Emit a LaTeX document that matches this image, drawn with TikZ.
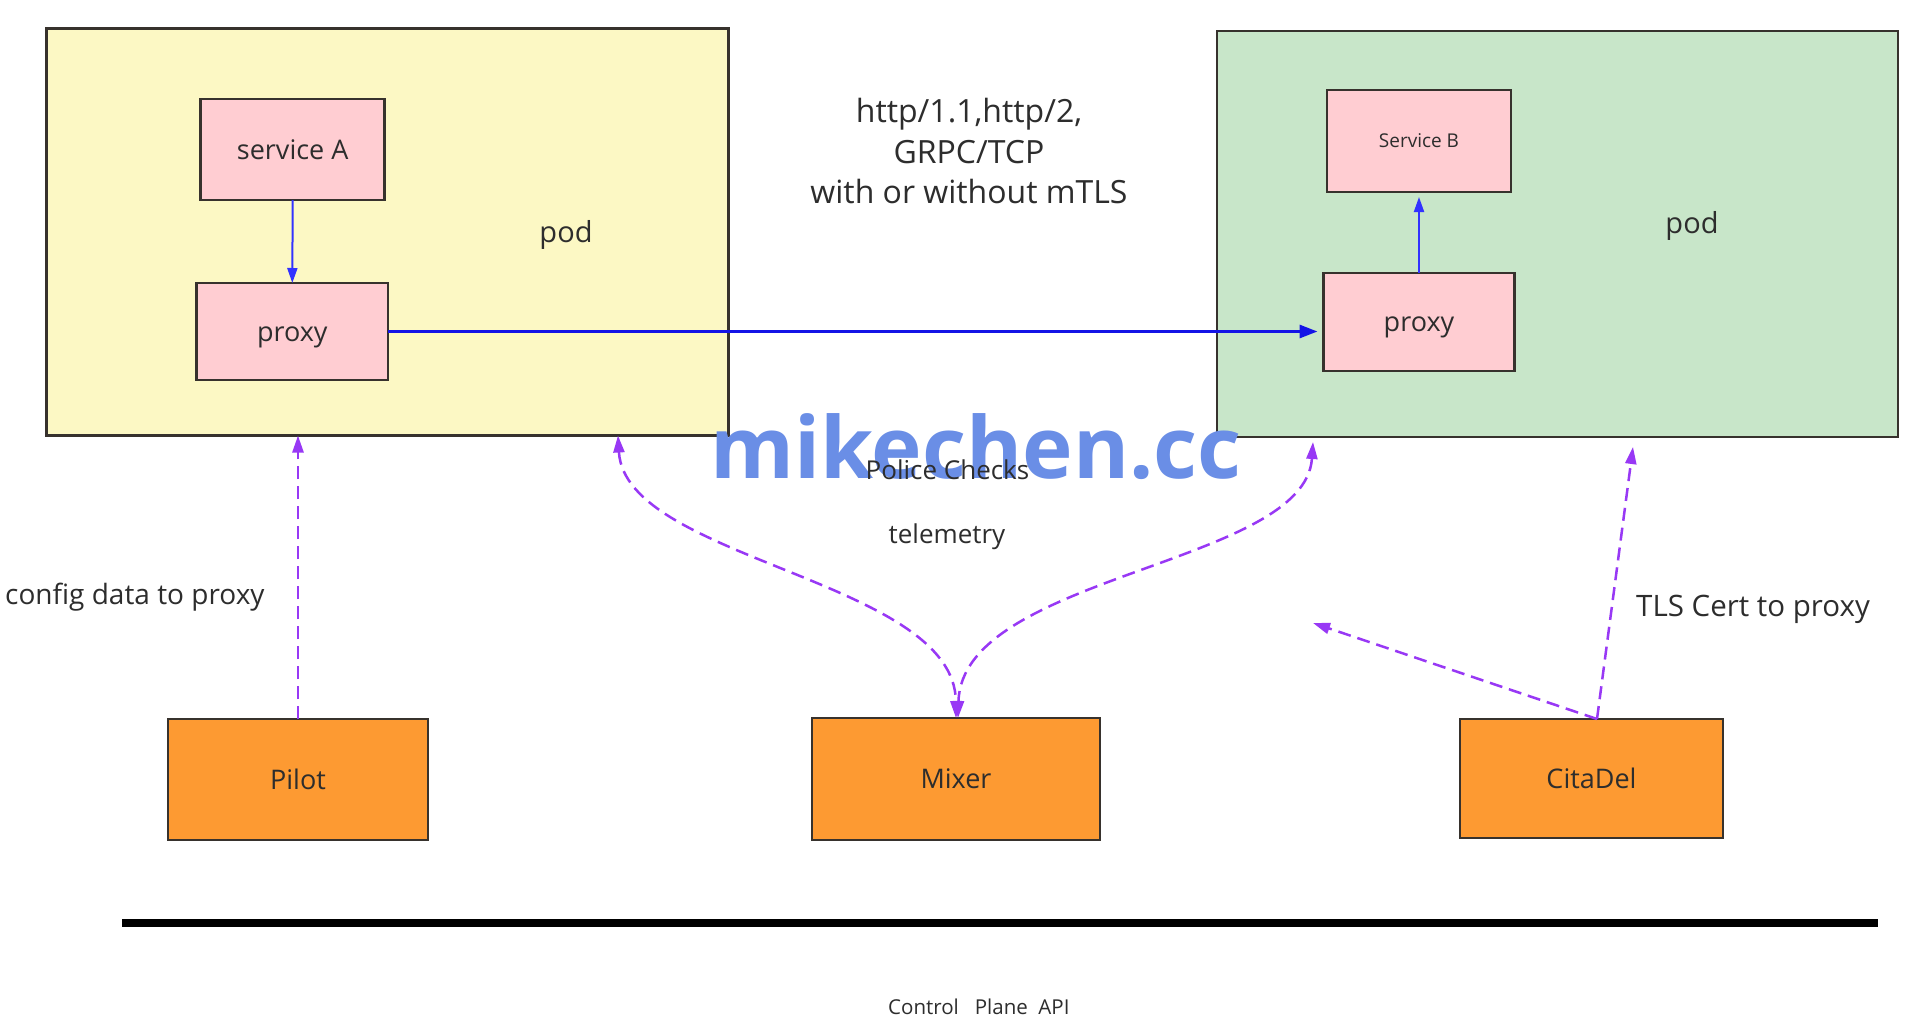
\documentclass[tikz,border=0pt]{standalone}
\usepackage{fontspec}
\setmainfont{Open Sans}
\usetikzlibrary{arrows.meta,calc}
\definecolor{podyellow}{RGB}{252,248,196}
\definecolor{podgreen}{RGB}{200,230,201}
\definecolor{boxpink}{RGB}{255,205,210}
\definecolor{boxorange}{RGB}{253,154,50}
\definecolor{edge}{RGB}{55,50,45}
\definecolor{txt}{RGB}{45,45,45}
\definecolor{flowblue}{RGB}{20,20,230}
\definecolor{svcblue}{RGB}{50,50,255}
\definecolor{ctrlpurple}{RGB}{152,56,245}
\definecolor{wm}{RGB}{106,142,230}
\tikzset{
  podbox/.style={draw=edge, line width=2.8pt, outer sep=0pt, inner sep=0pt},
  pinkbox/.style={draw=edge, line width=2.6pt, fill=boxpink, outer sep=0pt, inner sep=0pt, text=txt, text height=19pt, text depth=0pt, font=\fontsize{27}{32}\selectfont},
  orangebox/.style={draw=edge, line width=2.6pt, fill=boxorange, outer sep=0pt, inner sep=0pt, text=txt, text height=19pt, text depth=0pt, font=\fontsize{27}{32}\selectfont},
  lbl/.style={text=txt, inner sep=0pt, font=\fontsize{27}{32}\selectfont},
  ctrl/.style={draw=ctrlpurple, line width=2.5pt, dash pattern=on 13pt off 7pt},
  ctip/.style={-{Triangle[length=17pt,width=11pt]}},
}
\begin{document}
\begin{tikzpicture}[x=1pt,y=-1pt]
\useasboundingbox[fill=white] (0,0) rectangle (1923,1023);

% pods
\node[podbox, fill=podyellow, minimum width=682, minimum height=407] (podA) at (387.5,232) {};
\node[podbox, fill=podgreen, minimum width=681, minimum height=406] (podB) at (1557.5,234) {};
\node[lbl, font=\fontsize{29}{34}\selectfont] (podAt) at (566,235) {pod};
\node[lbl, font=\fontsize{29}{34}\selectfont] (podBt) at (1692,226) {pod};

% inner boxes
\node[pinkbox, minimum width=184, minimum height=101] (svcA) at (292.7,149.5) {service A};
\node[pinkbox, minimum width=191.5, minimum height=97] (prxA) at (292.3,331.5) {proxy};
\node[pinkbox, minimum width=184, minimum height=102, font=\fontsize{19}{23}\selectfont, text height=13.5pt] (svcB) at (1419,141) {Service B};
\node[pinkbox, minimum width=191, minimum height=98] (prxB) at (1419,322) {proxy};

% control plane boxes
\node[orangebox, minimum width=260, minimum height=121] (pilot) at (298,779.5) {Pilot};
\node[orangebox, minimum width=288, minimum height=122] (mixer) at (956,779) {Mixer};
\node[orangebox, minimum width=263, minimum height=119] (citadel) at (1591.5,778.5) {CitaDel};

% watermark
\node[font=\fontsize{85.5}{100}\selectfont\bfseries, text=wm, inner sep=0pt, anchor=base] (wmark) at (976,478) {mikechen.cc};

% protocol text
\node[lbl, font=\fontsize{32}{40.5}\selectfont, align=center] (proto) at (969,151) {http/1.1,http/2,\\GRPC/TCP\\with or without mTLS};

% data plane arrows
\draw[svcblue, line width=2pt, -{Triangle[length=15pt,width=10pt]}] (svcA.south) -- (prxA.north);
\draw[svcblue, line width=2pt, -{Triangle[length=15pt,width=10pt]}, shorten >=5pt] (prxB.north) -- (svcB.south);
\draw[flowblue, line width=3pt, -{Triangle[length=18pt,width=13pt]}, shorten >=6pt] (prxA.east) -- (prxA.east -| prxB.west);

% control arrows
\coordinate (citTop) at (1597,719);
\coordinate (certTip) at (1633,447);
\coordinate (freeTip) at (1313,623);
\draw[ctrl, ctip] (pilot.north) -- (pilot.north |- podA.south);
\draw[ctrl, {Triangle[length=17pt,width=11pt]}-{Triangle[length=17pt,width=11pt]}]
  (618,0 |- podA.south) .. controls (625,560) and (955,580) .. (mixer.north);
\draw[ctrl, {Triangle[length=17pt,width=11pt]}-{Triangle[length=17pt,width=11pt]}]
  (1313,442) .. controls (1305,565) and (962,575) .. (958,718);
\draw[ctrl, ctip] (citTop) -- (certTip);
\draw[ctrl, ctip] (citTop) -- (freeTip);

% labels
\node[lbl, font=\fontsize{26}{30}\selectfont] (police) at (947.5,470) {Police Checks};
\node[lbl, font=\fontsize{26}{30}\selectfont] (telem) at (947,537) {telemetry};
\node[lbl, anchor=west, font=\fontsize{28}{32}\selectfont] (cfg) at (5,597) {config data to proxy};
\node[lbl, anchor=west, font=\fontsize{29.5}{34}\selectfont] (tls) at (1636,609) {TLS Cert to proxy};

% control plane bar
\coordinate (barL) at (122,922.5);
\coordinate (barR) at (1878,922.5);
\draw[black, line width=8pt] (barL) -- (barR);
\node[lbl, anchor=west, font=\fontsize{20.5}{24}\selectfont] (cpapi) at (888,1007) {Control\ \ \ Plane\ \ API};
\end{tikzpicture}
\end{document}
